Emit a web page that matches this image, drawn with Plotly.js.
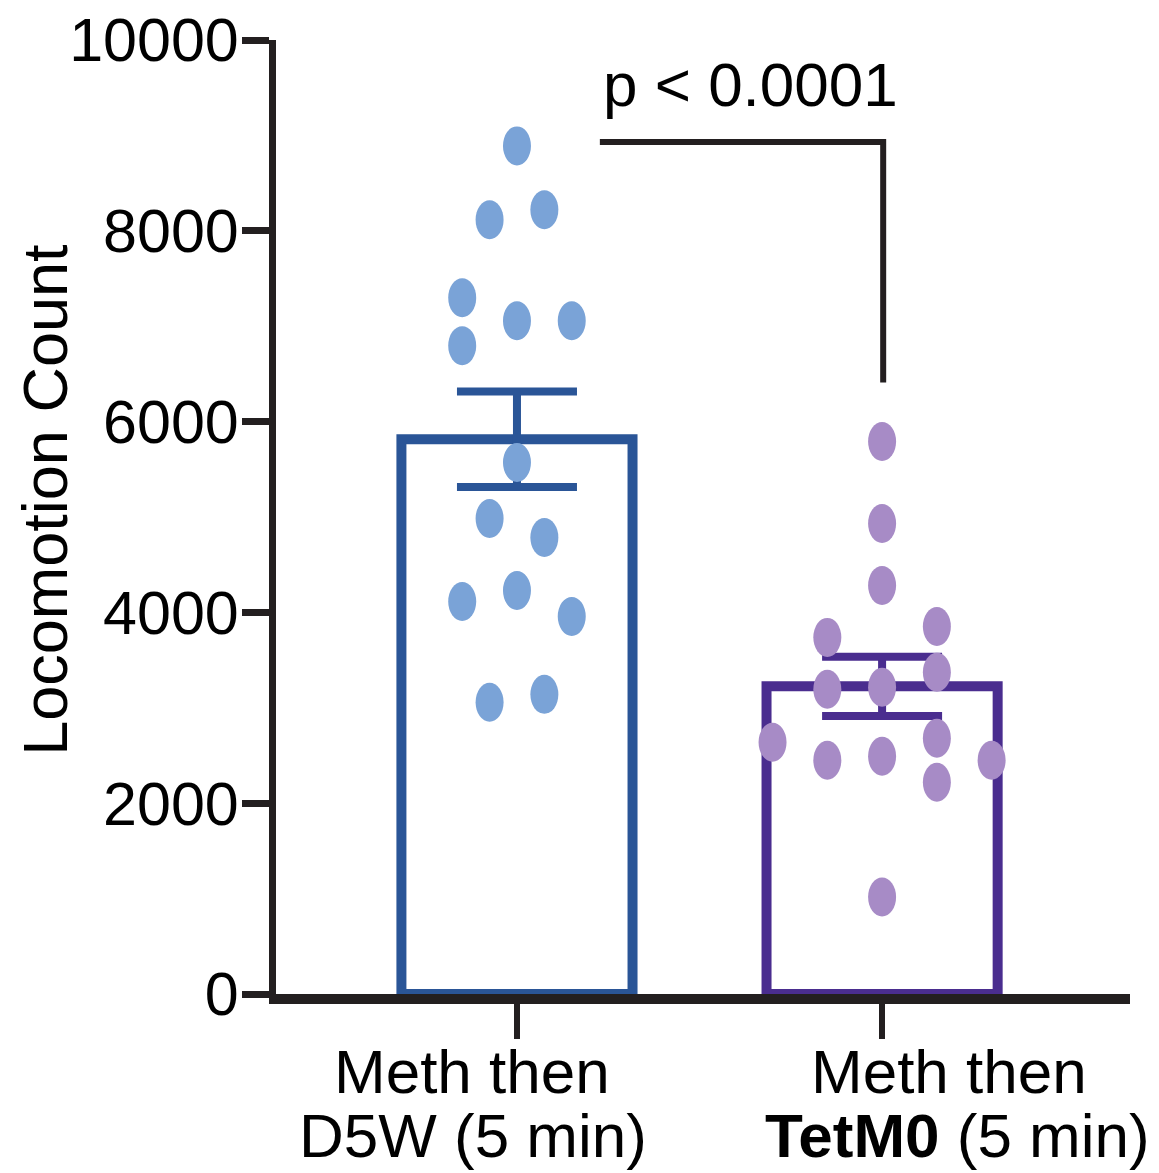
<!DOCTYPE html>
<html>
<head>
<meta charset="utf-8">
<script src="https://cdn.plot.ly/plotly-3.0.1.min.js"></script>
<style>
  html, body { margin: 0; padding: 0; background: #ffffff; }
  #chart { width: 1159px; height: 1173px; }
</style>
</head>
<body>
<div id="chart"></div>
<script>
// ---- data ----
const categories = ['Meth then D5W (5 min)', 'Meth then TetM0 (5 min)'];
const labelLine1 = ['Meth then', 'Meth then'];
const labelLine2 = ['D5W (5 min)', '<b>TetM0</b> (5 min)'];
const barMeans = [5815, 3225];
const barSEM = [500, 310];
const d5wValues  = [8890, 8220, 8115, 7298, 7058, 7058, 6796, 5571, 4984, 4785, 4230, 4115, 3958, 3141, 3058];
const d5wJitter  = [0, 1, -1, -2, 0, 2, -2, 0, -1, 1, 0, -2, 2, 1, -1];
const tetValues  = [5791, 4932, 4283, 3853, 3738, 3372, 3215, 3194, 2681, 2639, 2492, 2450, 2450, 2220, 1016];
const tetJitter  = [0, 0, 0, 2, -2, 2, 0, -2, 2, -4, 0, -2, 4, 2, 0];
const yTickVals = [0, 2000, 4000, 6000, 8000, 10000];
const yTitle = 'Locomotion Count';
const pLabel = 'p < 0.0001';

// ---- styling ----
const FONT = 'Liberation Sans, Arial, Helvetica, sans-serif';
const INK = '#231f20';
const barLineColors = ['#2a5597', '#4a2d8f'];
const dotColors = ['#7aa3d7', '#a78bc6'];
const slotWidth = 0.075;   // horizontal spacing of scatter columns (category units)
const barWidth = 0.633;

const xIdx = categories.map((_, i) => i);

const barTraces = categories.map((c, i) => ({
  type: 'bar',
  x: [xIdx[i]],
  y: [barMeans[i]],
  width: barWidth,
  name: c,
  marker: { color: 'rgba(255,255,255,0)', line: { color: barLineColors[i], width: 10 } },
  error_y: { type: 'data', array: [barSEM[i]], visible: true, color: barLineColors[i], thickness: 8, width: 60 },
  hoverinfo: 'y',
  showlegend: false
}));

// points as pixel-sized ellipses anchored at data coordinates
const groups = [
  { vals: d5wValues, jit: d5wJitter },
  { vals: tetValues, jit: tetJitter }
];
const dotShapes = [];
groups.forEach((g, gi) => {
  g.vals.forEach((v, k) => {
    dotShapes.push({
      type: 'circle', layer: 'above',
      xref: 'x', yref: 'y',
      xsizemode: 'pixel', ysizemode: 'pixel',
      xanchor: xIdx[gi] + g.jit[k] * slotWidth, yanchor: v,
      x0: -14, x1: 14, y0: -19.5, y1: 19.5,
      fillcolor: dotColors[gi], line: { width: 0 }
    });
  });
});

// significance bracket
const bracketShape = {
  type: 'path', layer: 'above', xref: 'x', yref: 'y',
  path: 'M 0.227 8930 L 1.003 8930 L 1.003 6410',
  line: { color: INK, width: 6 }
};

const annotations = [];
categories.forEach((c, i) => {
  const shift1 = [-45, 67][i];
  const shift2 = [-44, 75][i];
  annotations.push({
    xref: 'x', yref: 'paper', x: xIdx[i], y: 0, xanchor: 'center', yanchor: 'top',
    xshift: shift1, yshift: -41, text: labelLine1[i], showarrow: false,
    font: { family: FONT, size: 62, color: '#000' }
  });
  annotations.push({
    xref: 'x', yref: 'paper', x: xIdx[i], y: 0, xanchor: 'center', yanchor: 'top',
    xshift: shift2, yshift: -105, text: labelLine2[i], showarrow: false,
    font: { family: FONT, size: 62, color: '#000' }
  });
});
annotations.push({
  xref: 'x', yref: 'y', x: 0.64, y: 9530, xanchor: 'center', yanchor: 'middle',
  text: pLabel, showarrow: false, font: { family: FONT, size: 62, color: '#000' }
});
// y-axis title
annotations.push({
  xref: 'paper', yref: 'paper', x: -0.2705, y: 0.518, xanchor: 'center', yanchor: 'middle',
  textangle: -90, text: yTitle, showarrow: false,
  font: { family: FONT, size: 63, color: '#000' }
});

const layout = {
  width: 1159, height: 1173,
  margin: { l: 276, r: 29, t: 40, b: 179 },
  paper_bgcolor: '#ffffff', plot_bgcolor: '#ffffff',
  font: { family: FONT, color: '#000' },
  showlegend: false,
  xaxis: {
    range: [-0.660, 1.679], tickvals: xIdx, ticktext: ['', ''],
    showline: true, linecolor: INK, linewidth: 10,
    ticks: 'outside', ticklen: 35, tickwidth: 6, tickcolor: INK,
    showgrid: false, zeroline: false, fixedrange: true
  },
  yaxis: {
    range: [0, 10000], tickvals: yTickVals, tickformat: 'd',
    showline: true, linecolor: INK, linewidth: 7,
    ticks: 'outside', ticklen: 27, tickwidth: 7, tickcolor: INK,
    ticklabelstandoff: -9,
    tickfont: { family: FONT, size: 61, color: '#000' },
    showgrid: false, zeroline: false, fixedrange: true
  },
  shapes: dotShapes.concat([bracketShape]),
  annotations: annotations
};

Plotly.newPlot('chart', barTraces, layout, { staticPlot: true, displayModeBar: false });
</script>
</body>
</html>
